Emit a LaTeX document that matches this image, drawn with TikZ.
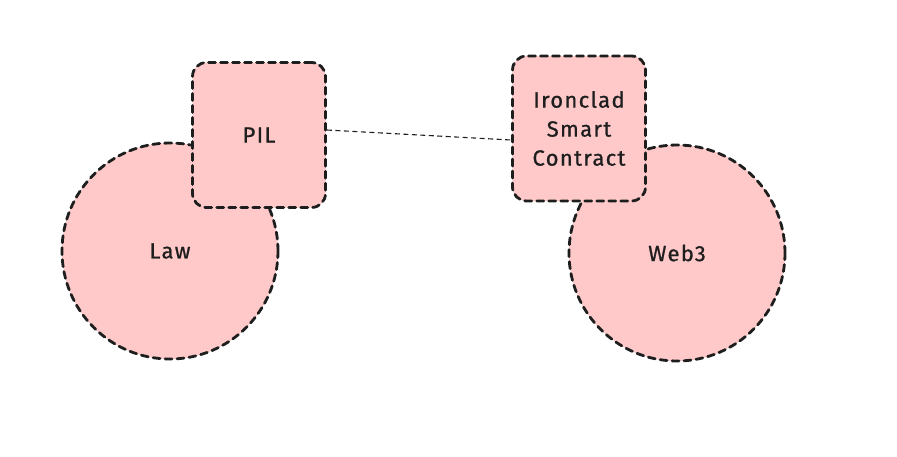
\documentclass[tikz,border=0pt]{standalone}
\usepackage{fontspec}
\setmainfont{Fira Sans}
\newfontfamily\lblfont{Fira Sans}[FakeBold=0.8,LetterSpace=6]
\definecolor{fillred}{HTML}{FFC9C9}
\definecolor{ink}{HTML}{1E1E1E}
\begin{document}
\begin{tikzpicture}[x=1pt,y=-1pt,
  shapeline/.style={draw=ink,fill=fillred,line width=2.8pt,dash pattern=on 7pt off 5pt,line cap=round},
  circ/.style={shapeline,circle,minimum size=216pt,inner sep=0pt},
  rbox/.style={shapeline,rectangle,rounded corners=14pt,minimum width=133pt,minimum height=145pt,inner sep=0pt,align=center},
  lbl/.style={font=\lblfont\fontsize{22}{29}\selectfont,text=ink},
  link/.style={draw=ink,line width=1.1pt,dash pattern=on 5pt off 3.5pt}]
\useasboundingbox (0,0) rectangle (897,456);
\node[circ,lbl] (law) at (170,251) {Law};
\node[circ,lbl] (web) at (677,253) {Web3};
\node[rbox,lbl] (pil) at (259,135) {PIL};
\node[rbox,lbl] (iron) at (579,128.5) {Ironclad\\Smart\\Contract};
\draw[link] ([yshift=5pt]pil.east) -- ([yshift=-11.5pt]iron.west);
\end{tikzpicture}
\end{document}
